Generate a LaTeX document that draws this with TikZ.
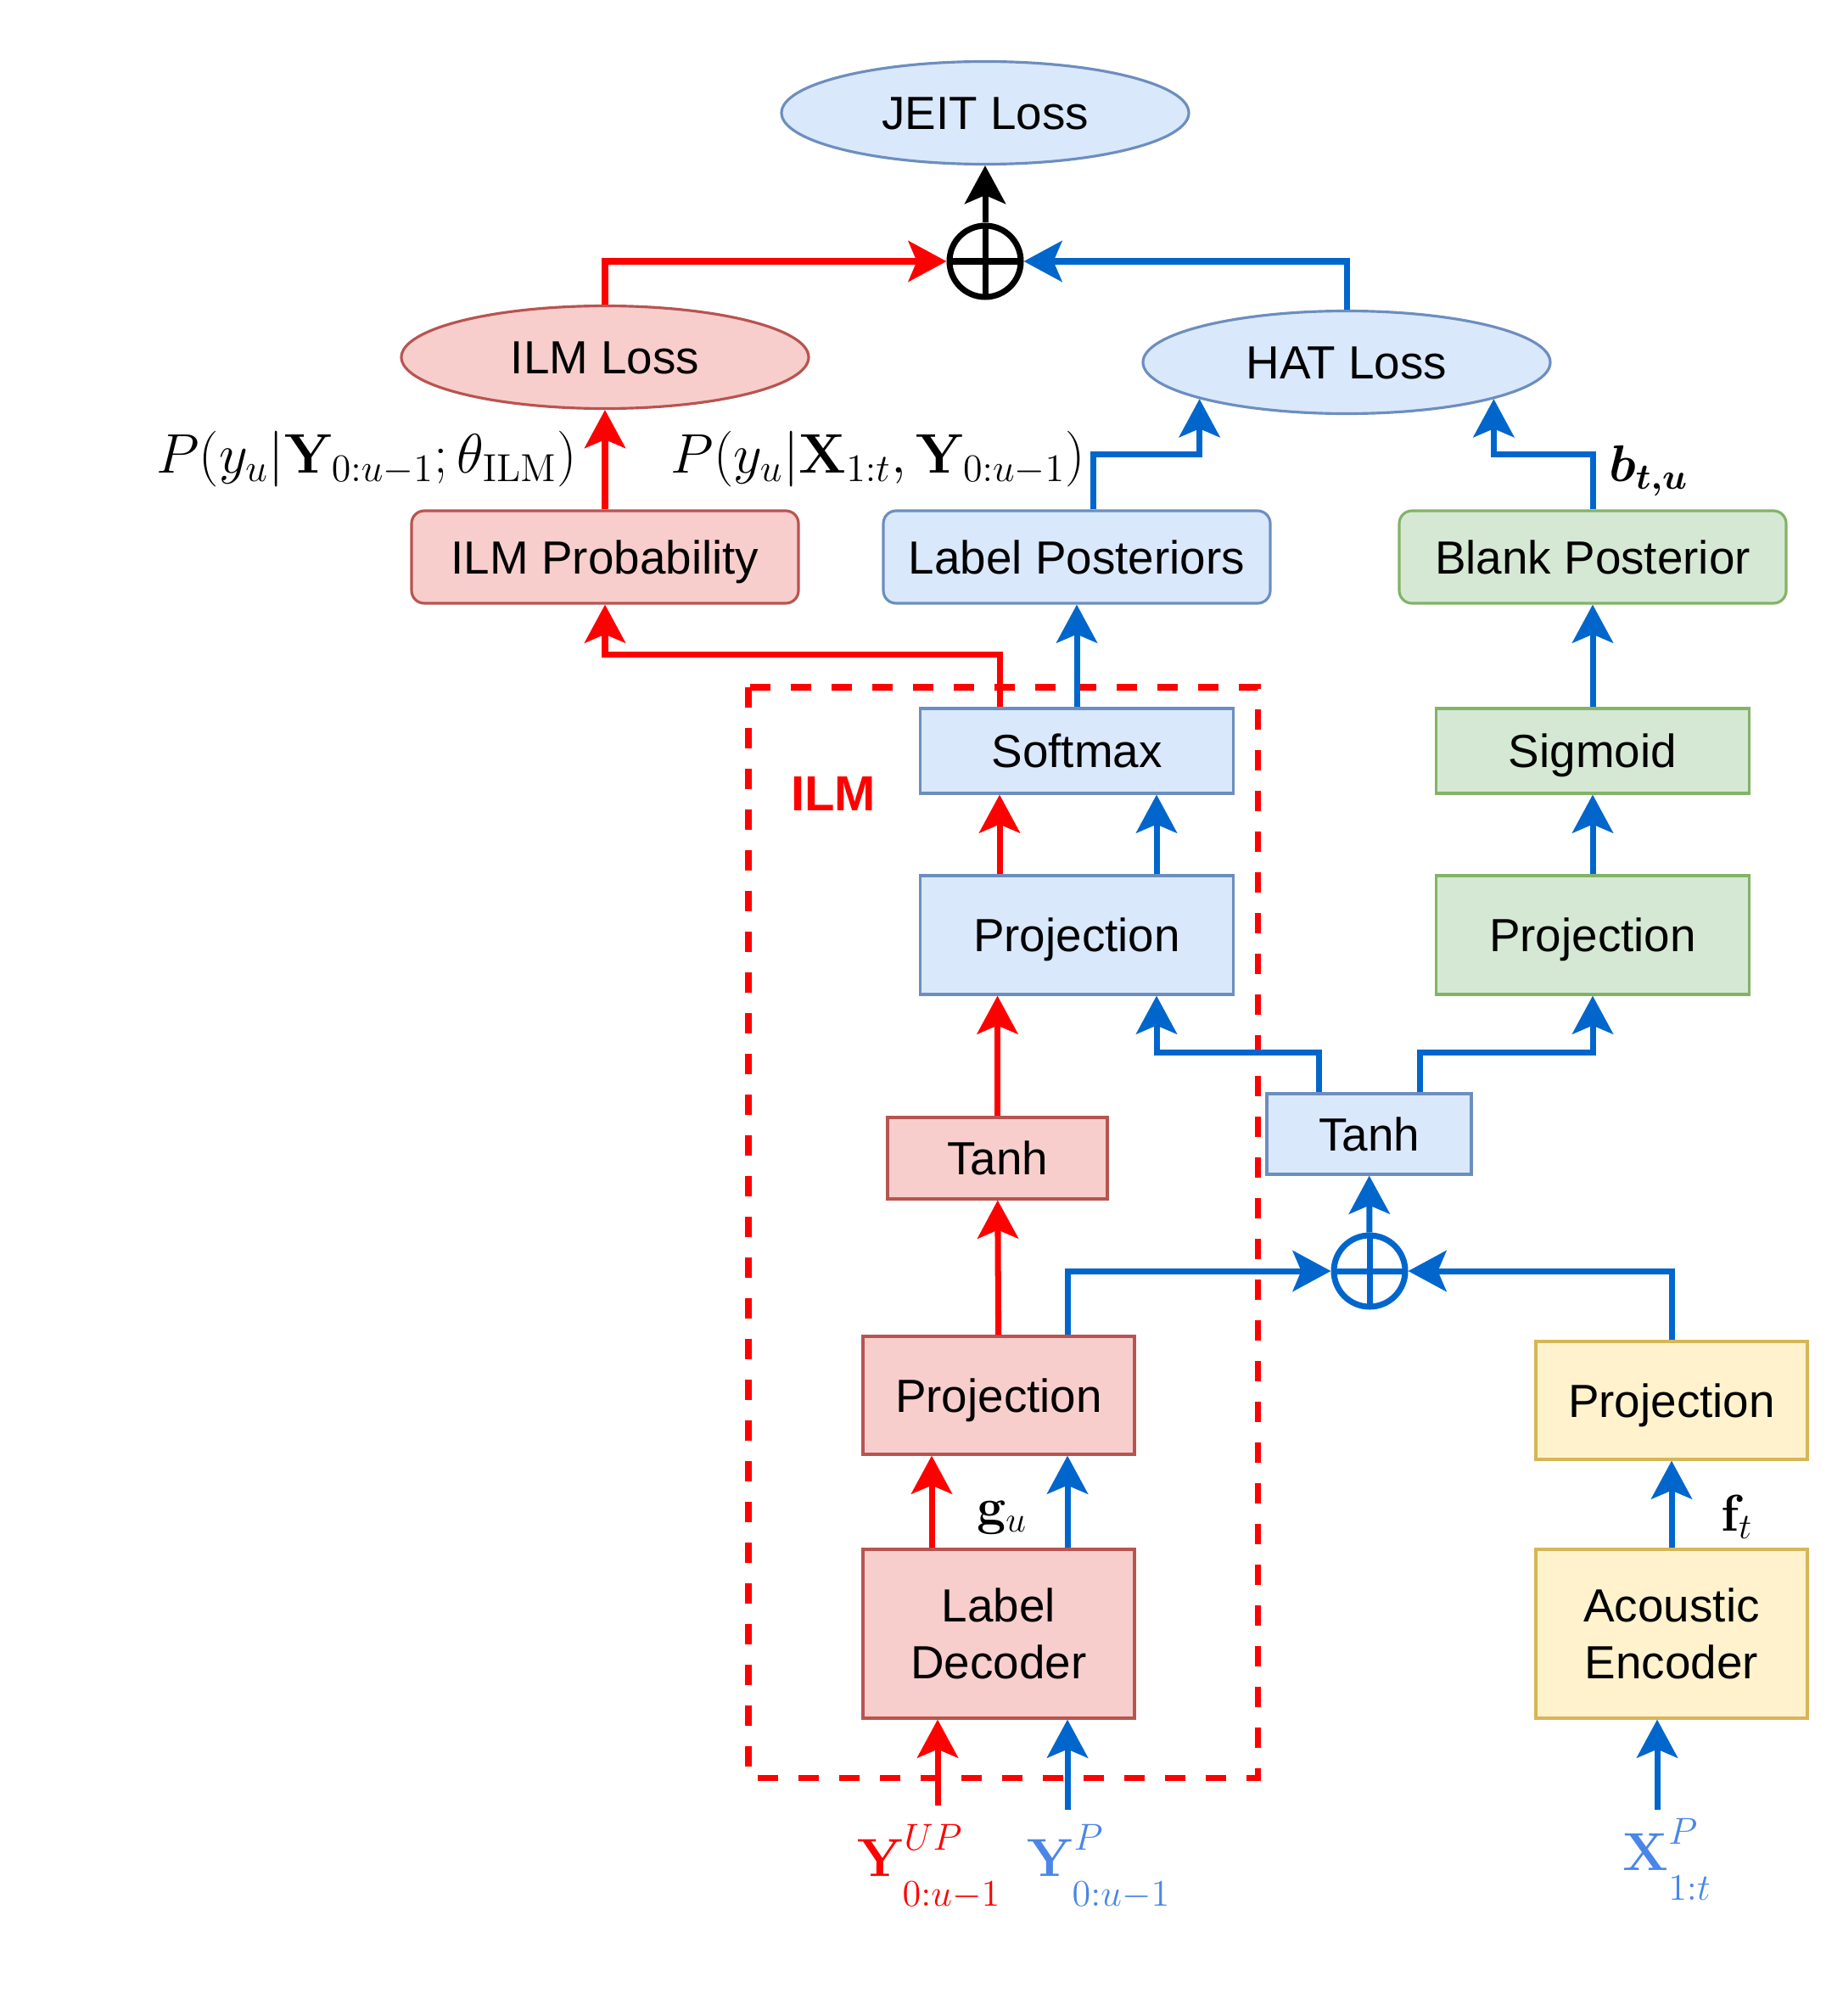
\documentclass[tikz,border=0pt]{standalone}
\usepackage{fix-cm}
\usepackage{amsmath,amssymb,bm}
\usepackage[no-math]{fontspec}
\setmainfont{Liberation Sans}
\usepackage{xcolor}
\usepackage{tikz}
\usetikzlibrary{arrows.meta,positioning,calc,shapes.geometric}
\definecolor{fillR}{HTML}{F8CECC}
\definecolor{lineR}{HTML}{B85450}
\definecolor{fillB}{HTML}{DAE8FC}
\definecolor{lineB}{HTML}{6C8EBF}
\definecolor{fillG}{HTML}{D5E8D4}
\definecolor{lineG}{HTML}{82B366}
\definecolor{fillY}{HTML}{FFF2CC}
\definecolor{lineY}{HTML}{D6B656}
\definecolor{flowR}{HTML}{FF0000}
\definecolor{flowB}{HTML}{0066CC}
\definecolor{inB}{HTML}{4A86E8}
\newcommand{\blkfont}{\fontsize{15.6}{19}\selectfont}
\newcommand{\mathlblfont}{\fontsize{17.3}{20}\selectfont}
\newcommand{\problblfont}{\fontsize{18.7}{21}\selectfont}
\newcommand{\inlblfont}{\fontsize{18}{20}\selectfont}
\newcommand{\insup}[1]{^{\raisebox{0.12em}{$\scriptstyle #1$}}}
\newcommand{\insub}[1]{_{\raisebox{-0.3em}{$\scriptstyle #1$}}}
\tikzset{
  redflow/.style={-{Stealth[length=4.5mm,width=4.8mm,inset=1mm]}, line width=2pt, flowR},
  blueflow/.style={-{Stealth[length=4.5mm,width=4.8mm,inset=1mm]}, line width=2pt, flowB},
  blackflow/.style={-{Stealth[length=4.5mm,width=4.8mm,inset=1mm]}, line width=2pt, black},
  blk/.style={rectangle, line width=0.9pt, inner sep=0pt, font=\blkfont, align=center},
  oneline/.style={text height=14pt, text depth=2.9pt},
  blkR/.style={blk, draw=lineR, fill=fillR},
  blkB/.style={blk, draw=lineB, fill=fillB},
  blkG/.style={blk, draw=lineG, fill=fillG},
  blkY/.style={blk, draw=lineY, fill=fillY},
  lossR/.style={ellipse, draw=lineR, fill=fillR, line width=0.9pt, inner sep=0.5mm, minimum width=4.8cm, minimum height=1.21cm, font=\blkfont, oneline},
  lossB/.style={ellipse, draw=lineB, fill=fillB, line width=0.9pt, inner sep=0.5mm, minimum width=4.8cm, minimum height=1.21cm, font=\blkfont, oneline},
  plusnode/.style={circle, draw=#1, line width=2pt, minimum size=8.4mm, inner sep=0pt,
    path picture={\draw[#1, line width=2pt] (path picture bounding box.north) -- (path picture bounding box.south)
      (path picture bounding box.west) -- (path picture bounding box.east);}},
  mathlbl/.style={inner sep=0pt, font=\mathlblfont},
  problbl/.style={inner sep=0pt, font=\problblfont},
  inlbl/.style={inner sep=0pt, anchor=north, font=\inlblfont},
}

\begin{document}
\begin{tikzpicture}
\useasboundingbox (0,0) rectangle (21.72,-23.76);
% --- losses ---
\node[lossB] (jeit) at (11.61,-1.33) {JEIT Loss};
\node[plusnode=black] (sumtop) at (11.61,-3.08) {};
\node[lossR] (ilmloss) at (7.13,-4.21) {ILM Loss};
\node[lossB] (hatloss) at (15.87,-4.27) {HAT Loss};
% --- posteriors ---
\node[blkR, oneline, rounded corners=1.5mm, minimum width=4.56cm, minimum height=1.09cm] (ilmprob) at (7.13,-6.565) {ILM Probability};
\node[blkB, oneline, rounded corners=1.5mm, minimum width=4.56cm, minimum height=1.09cm] (labelpost) at (12.69,-6.565) {Label Posteriors};
\node[blkG, oneline, rounded corners=1.5mm, minimum width=4.56cm, minimum height=1.09cm] (blankpost) at (18.77,-6.565) {Blank Posterior};
\node[problbl] (pilm) at (4.32,-5.41) {$P(y_u|\mathbf{Y}_{0:u-1};\theta_{\mathrm{ILM}})$};
\node[problbl] (phat) at (10.35,-5.41) {$P(y_u|\mathbf{X}_{1:t},\mathbf{Y}_{0:u-1})$};
\node[mathlbl] (blab) at (19.43,-5.55) {$\bm{b_{t,u}}$};
% --- ILM region ---
\draw[flowR, line width=2pt, dash pattern=on 2.4mm off 2.4mm] (8.82,-8.10) rectangle (14.82,-20.95);
\node[inner sep=0pt, text=flowR, font=\fontsize{16.5}{19}\selectfont\bfseries] (ilmtag) at (9.82,-9.36) {ILM};
% --- joint network ---
\node[blkB, oneline, minimum width=3.69cm, minimum height=1.00cm] (softmax) at (12.69,-8.85) {Softmax};
\node[blkG, oneline, minimum width=3.69cm, minimum height=1.00cm] (sigmoid) at (18.77,-8.85) {Sigmoid};
\node[blkB, oneline, minimum width=3.69cm, minimum height=1.40cm] (projblue) at (12.69,-11.02) {Projection};
\node[blkG, oneline, minimum width=3.69cm, minimum height=1.40cm] (projgreen) at (18.77,-11.02) {Projection};
\node[blkR, oneline, minimum width=2.59cm, minimum height=0.96cm] (tanhred) at (11.755,-13.65) {Tanh};
\node[blkB, oneline, minimum width=2.41cm, minimum height=0.95cm] (tanhblue) at (16.135,-13.365) {Tanh};
\node[plusnode=flowB] (summid) at (16.14,-14.98) {};
% --- decoder / encoder ---
\node[blkR, oneline, minimum width=3.20cm, minimum height=1.39cm] (projred) at (11.77,-16.445) {Projection};
\node[blkY, oneline, minimum width=3.20cm, minimum height=1.39cm] (projyellow) at (19.70,-16.505) {Projection};
\node[blkR, minimum width=3.20cm, minimum height=1.99cm] (decoder) at (11.77,-19.255) {Label\\Decoder};
\node[blkY, minimum width=3.20cm, minimum height=1.99cm] (encoder) at (19.70,-19.255) {Acoustic\\Encoder};
\node[mathlbl] (glab) at (11.81,-17.89) {$\mathbf{g}_u$};
\node[mathlbl] (flab) at (20.47,-17.88) {$\mathbf{f}_t$};
% --- inputs ---
\node[inlbl, text=flowR] (yup) at (10.95,-21.50) {$\mathbf{Y}\insup{UP}\insub{0:u-1}$};
\node[inlbl, text=inB] (yp) at (12.95,-21.50) {$\mathbf{Y}\insup{P}\insub{0:u-1}$};
\node[inlbl, text=inB] (xp) at (19.65,-21.43) {$\mathbf{X}\insup{P}\insub{1:t}$};
% --- connectors ---
\draw[blackflow] (sumtop) -- (jeit);
\draw[redflow] (ilmloss.north) |- (sumtop);
\draw[blueflow] (hatloss.north) |- (sumtop);
\draw[redflow] (ilmprob) -- (ilmloss);
\draw[blueflow] ([xshift=0.19cm]labelpost.north) -- ++(0,0.65) -| (hatloss.194);
\draw[blueflow] (blankpost.north) -- ++(0,0.65) -| (hatloss.346);
\draw[blueflow] (softmax) -- (labelpost);
\draw[redflow] ([xshift=-0.91cm]softmax.north) -- ++(0,0.62) -| (ilmprob.south);
\draw[blueflow] (sigmoid) -- (blankpost);
\draw[blueflow] (projgreen) -- (sigmoid);
\draw[redflow] ([xshift=-0.91cm]projblue.north) -- ([xshift=-0.91cm]softmax.south);
\draw[blueflow] ([xshift=0.94cm]projblue.north) -- ([xshift=0.94cm]softmax.south);
\draw[redflow] (tanhred) -- (tanhred |- projblue.south);
\draw[blueflow] ([xshift=-0.59cm]tanhblue.north) -- ++(0,0.47) -| ([xshift=0.94cm]projblue.south);
\draw[blueflow] ([xshift=0.60cm]tanhblue.north) -- ++(0,0.47) -| (projgreen.south);
\draw[blueflow] (summid) -- (tanhblue);
\draw[redflow] (projred) -- (tanhred);
\draw[blueflow] ([xshift=0.81cm]projred.north) |- (summid);
\draw[blueflow] (projyellow.north) |- (summid);
\draw[redflow] ([xshift=-0.79cm]decoder.north) -- ([xshift=-0.79cm]projred.south);
\draw[blueflow] ([xshift=0.81cm]decoder.north) -- ([xshift=0.81cm]projred.south);
\draw[blueflow] (encoder) -- (projyellow);
\draw[redflow] ([xshift=0.10cm,yshift=0.22cm]yup.north) -- ([xshift=0.10cm]yup.north |- decoder.south);
\draw[blueflow] ([xshift=0.81cm,yshift=0.17cm]decoder.south |- yp.north) -- ([xshift=0.81cm]decoder.south);
\draw[blueflow] ([xshift=-0.12cm,yshift=0.10cm]xp.north) -- ([xshift=-0.12cm]xp.north |- encoder.south);
\end{tikzpicture}
\end{document}
